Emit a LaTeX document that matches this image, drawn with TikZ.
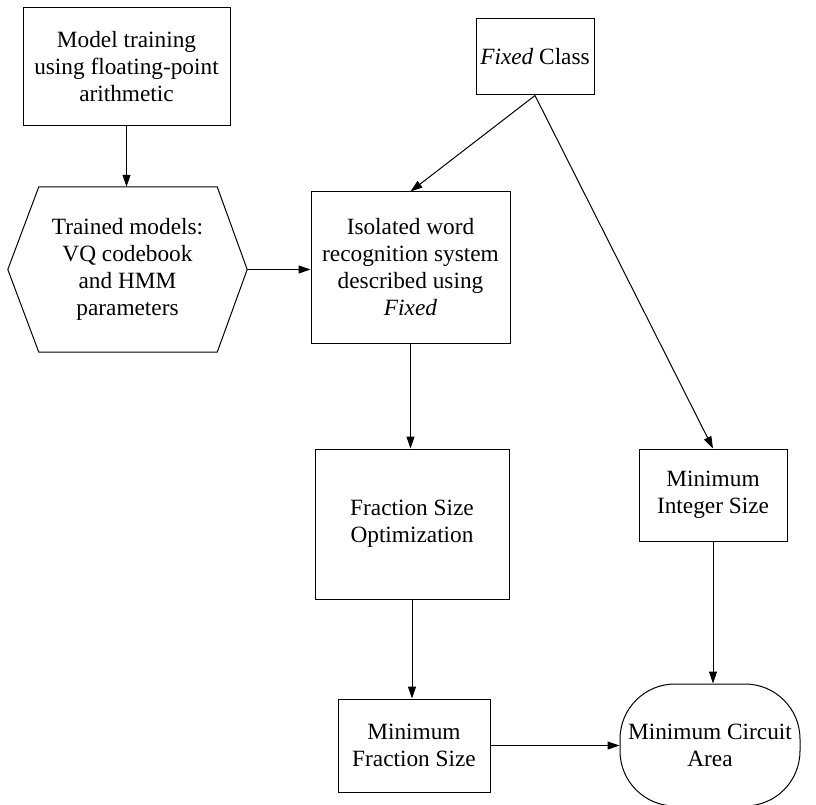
\documentclass[tikz,border=0pt]{standalone}
\usepackage{fontspec}
\setmainfont{Liberation Serif}
\usetikzlibrary{arrows.meta}
\begin{document}
\begin{tikzpicture}[x=1pt,y=-1pt,
  every node/.style={font=\fontsize{23.3}{27}\selectfont, align=center, inner sep=0pt},
  boxnode/.style={draw, line width=1pt, minimum width=#1},
  arr/.style={line width=1pt, -{Triangle[length=12pt,width=8pt]}},
  ln/.style={line width=1pt}]
\useasboundingbox (0,0) rectangle (816,805);
\node[boxnode=207pt, minimum height=118pt] (train) at (126.5,67) {Model training\\using floating-point\\arithmetic};
\node[minimum width=239pt, minimum height=165pt] (hex) at (127.5,269.5) {Trained models:\\VQ codebook\\and HMM\\parameters};
\draw[ln] (hex.west) -- ([xshift=31pt]hex.north west) -- ([xshift=-30pt]hex.north east) -- (hex.east) -- ([xshift=-30pt]hex.south east) -- ([xshift=31pt]hex.south west) -- cycle;
\node[boxnode=118pt, minimum height=76pt] (fixed) at (535,57) {\textit{Fixed} Class};
\node[boxnode=199pt, minimum height=151pt] (iso) at (410.5,267.5) {Isolated word\\recognition system\\described using\\\textit{Fixed}};
\node[boxnode=194pt, minimum height=150pt] (fso) at (412,524) {Fraction Size\\Optimization};
\node[boxnode=148pt, minimum height=92pt] (mis) at (713,495) {Minimum\\Integer Size};
\node[boxnode=152pt, minimum height=93pt] (mfs) at (414,745.5) {Minimum\\Fraction Size};
\node[draw, line width=1pt, rounded corners=55pt, minimum width=180pt, minimum height=122pt] (mca) at (710,745) {Minimum Circuit\\Area};
\draw[arr] (train.south) -- (hex.north -| train.south);
\draw[arr] (hex.east) -- (hex.east -| iso.west);
\draw[arr] (fixed.south) -- (iso.north);
\draw[arr] (fixed.south) -- (mis.north);
\draw[arr] (iso.south) -- (iso.south |- fso.north);
\draw[arr] (fso.south) -- (fso.south |- mfs.north);
\draw[arr] (mfs.east) -- (mfs.east -| mca.west);
\draw[arr] (mis.south) -- (mis.south |- mca.north);
\end{tikzpicture}
\end{document}
